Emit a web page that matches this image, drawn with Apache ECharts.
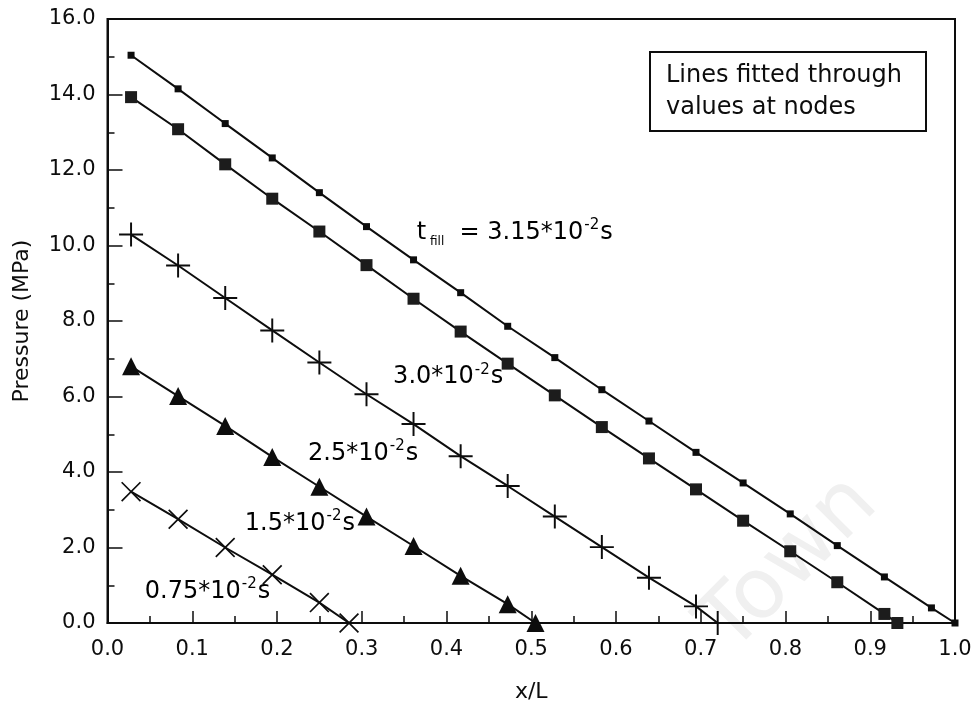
<!DOCTYPE html>
<html>
<head>
<meta charset="utf-8">
<script src="https://cdn.jsdelivr.net/npm/echarts@6/dist/echarts.min.js"></script>
<style>
  html, body { margin: 0; padding: 0; background: #fff; }
  #chart { width: 977px; height: 711px; }
</style>
</head>
<body>
<div id="chart"></div>
<script>
// Node positions along the cavity (x/L), centres of the 18 elements
const xNodes = [0.0278, 0.0833, 0.1389, 0.1944, 0.2500, 0.3056, 0.3611, 0.4167, 0.4722,
                0.5278, 0.5833, 0.6389, 0.6944, 0.7500, 0.8056, 0.8611, 0.9167, 0.9722];

// Nodal pressures (MPa) for each fill time
const p315 = [15.04, 14.15, 13.23, 12.32, 11.40, 10.50, 9.62, 8.75, 7.86, 7.03, 6.18, 5.35, 4.52, 3.71, 2.89, 2.05, 1.22, 0.40];
const p300 = [13.93, 13.08, 12.15, 11.24, 10.37, 9.48, 8.59, 7.72, 6.87, 6.03, 5.19, 4.36, 3.54, 2.71, 1.90, 1.08, 0.24];
const p250 = [10.29, 9.47, 8.61, 7.75, 6.90, 6.06, 5.27, 4.42, 3.63, 2.82, 2.01, 1.20, 0.44];
const p150 = [6.80, 6.01, 5.22, 4.40, 3.61, 2.82, 2.04, 1.25, 0.50];
const p075 = [3.48, 2.75, 2.00, 1.28, 0.54];

// Melt-front position (x/L) where pressure reaches zero
const front315 = 1.0;
const front300 = 0.932;
const front250 = 0.72;
const front150 = 0.505;
const front075 = 0.285;

// Axis tick values
const xTicks = [0.0, 0.1, 0.2, 0.3, 0.4, 0.5, 0.6, 0.7, 0.8, 0.9, 1.0];
const yTicks = [0, 2, 4, 6, 8, 10, 12, 14, 16];

const INK = '#0d0d0d';
const FONT = 'DejaVu Sans';

function build(p, front) {
  const pts = p.map((v, i) => [xNodes[i], v]);
  pts.push([front, 0]);
  return pts;
}

const plusPath = 'path://M0,10.1h22v1.8h-22z M10.1,0h1.8v22h-1.8z';
const crossPath = 'path://M0,1.2 L1.2,0 L20,18.8 L18.8,20 Z M18.8,0 L20,1.2 L1.2,20 L0,18.8 Z';

function lineSeries(name, data, symbol, size, color) {
  return {
    name: name,
    type: 'line',
    data: data,
    symbol: symbol,
    symbolSize: size,
    showAllSymbol: true,
    clip: false,
    lineStyle: { color: INK, width: 2 },
    itemStyle: { color: color || INK, borderColor: INK, borderWidth: 0 },
    z: 3
  };
}

const chart = echarts.init(document.getElementById('chart'), null, { renderer: 'canvas' });

const option = {
  backgroundColor: '#fff',
  animation: false,
  grid: {
    left: 107.5, right: 22, top: 19, bottom: 88,
    outerBoundsMode: 'none',
    containLabel: false,
    show: true, borderColor: INK, borderWidth: 2, backgroundColor: 'transparent'
  },
  xAxis: {
    type: 'value',
    min: xTicks[0], max: xTicks[xTicks.length - 1], interval: 0.1,
    name: 'x/L', nameLocation: 'middle', nameGap: 58,
    nameTextStyle: { fontFamily: FONT, fontSize: 22, color: INK },
    axisLine: { show: true, lineStyle: { color: INK, width: 2 } },
    axisTick: { show: true, inside: true, length: 12, lineStyle: { color: INK, width: 1.5 } },
    minorTick: { show: true, splitNumber: 2, length: 7, lineStyle: { color: INK, width: 1.5 } },
    splitLine: { show: false },
    axisLabel: {
      fontFamily: FONT, fontSize: 21, color: INK, margin: 16,
      formatter: v => v.toFixed(1)
    }
  },
  yAxis: {
    type: 'value',
    min: yTicks[0], max: yTicks[yTicks.length - 1], interval: 2,
    name: 'Pressure (MPa)', nameLocation: 'middle', nameGap: 74,
    nameTextStyle: { fontFamily: FONT, fontSize: 22, color: INK },
    axisLine: { show: true, lineStyle: { color: INK, width: 2 } },
    axisTick: { show: true, inside: true, length: 15, lineStyle: { color: INK, width: 1.5 } },
    minorTick: { show: true, splitNumber: 2, length: 7, lineStyle: { color: INK, width: 1.5 } },
    splitLine: { show: false },
    axisLabel: {
      fontFamily: FONT, fontSize: 21, color: INK, margin: 12,
      formatter: v => v.toFixed(1)
    }
  },
  series: [
    lineSeries('3.15', build(p315, front315), 'rect', 7),
    lineSeries('3.0', build(p300, front300), 'rect', 12, '#1c1c1c'),
    lineSeries('2.5', build(p250, front250), plusPath, 24),
    lineSeries('1.5', build(p150, front150), 'triangle', 18),
    lineSeries('0.75', build(p075, front075), crossPath, 20)
  ]
};

chart.setOption(option);

// Fill-time annotations, anchored in data coordinates
const notes = [
  { at: [0.365, 10.34], text: '{n|t}{sub| fill}{n|  = 3.15*10}{sup|-2}{n|s}' },
  { at: [0.337, 6.51], text: '{n|3.0*10}{sup|-2}{n|s}' },
  { at: [0.2366, 4.48], text: '{n|2.5*10}{sup|-2}{n|s}' },
  { at: [0.162, 2.62], text: '{n|1.5*10}{sup|-2}{n|s}' },
  { at: [0.044, 0.83], text: '{n|0.75*10}{sup|-2}{n|s}' }
];

const rich = {
  n: { fontFamily: FONT, fontSize: 24, color: INK, lineHeight: 30, verticalAlign: 'middle' },
  sup: { fontFamily: FONT, fontSize: 15, color: INK, lineHeight: 15, verticalAlign: 'top', padding: [0, 1, 0, 1] },
  sub: { fontFamily: FONT, fontSize: 12, color: INK, lineHeight: 12, verticalAlign: 'bottom' }
};

const graphics = notes.map(nt => {
  const px = chart.convertToPixel({ gridIndex: 0 }, nt.at);
  return {
    type: 'text',
    x: px[0], y: px[1],
    z: 10,
    style: { text: nt.text, rich: rich, align: 'left', verticalAlign: 'middle' }
  };
});

// Note box in the upper right of the plot
graphics.push({
  type: 'group',
  x: 650, y: 52, z: 10,
  children: [
    { type: 'rect', shape: { x: 0, y: 0, width: 276, height: 79 },
      style: { fill: '#fff', stroke: INK, lineWidth: 2 } },
    { type: 'text', x: 16, y: 24,
      style: { text: 'Lines fitted through', fontFamily: FONT, fontSize: 24, fill: INK, verticalAlign: 'middle' } },
    { type: 'text', x: 16, y: 56,
      style: { text: 'values at nodes', fontFamily: FONT, fontSize: 24, fill: INK, verticalAlign: 'middle' } }
  ]
});

// Faint library stamp across the lower right
graphics.push({
  type: 'text', x: 790, y: 565, rotation: Math.PI / 4, z: 0, silent: true,
  style: { text: 'Town', fontFamily: FONT, fontSize: 84, fill: '#f0f0f0', align: 'center', verticalAlign: 'middle' }
});

chart.setOption({ graphic: graphics });
</script>
</body>
</html>
